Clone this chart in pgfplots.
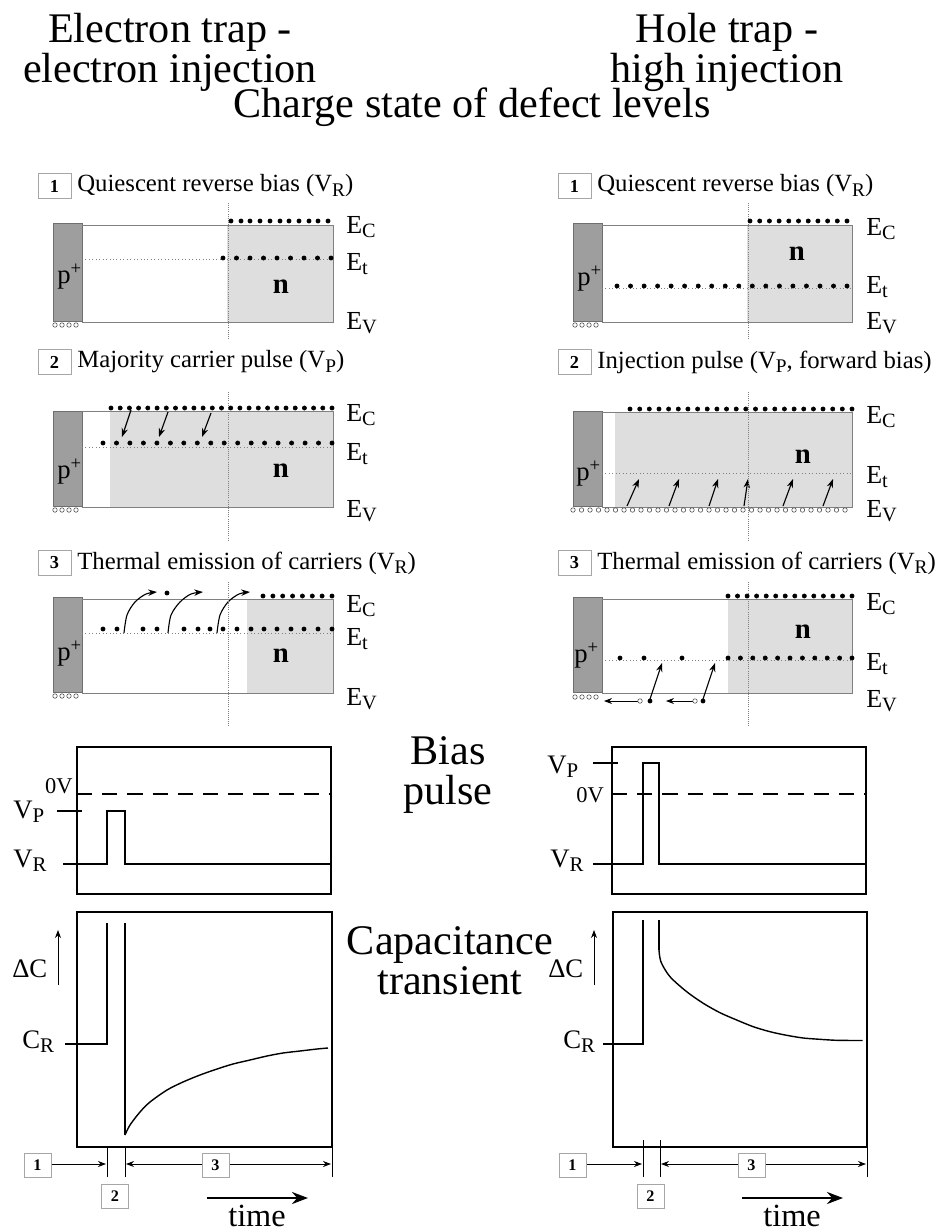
\documentclass[border=0pt]{standalone}
\usepackage{pgfplots}
\pgfplotsset{compat=1.18}
\usepackage{fontspec}
\setmainfont{Liberation Serif}
\usetikzlibrary{arrows.meta}
\newcommand{\fT}{\fontsize{30}{24}\selectfont}
\newcommand{\fB}{\fontsize{30}{28.5}\selectfont}
\newcommand{\fS}{\fontsize{17.6}{20}\selectfont}
\newcommand{\fE}{\fontsize{18.5}{21}\selectfont}
\newcommand{\fL}{\fontsize{19}{21}\selectfont}
\newcommand{\fZ}{\fontsize{16}{18}\selectfont}
\newcommand{\fN}{\fontsize{13}{15}\selectfont\bfseries}
\newcommand{\fM}{\fontsize{11.5}{13}\selectfont\bfseries}
\newcommand{\fW}{\fontsize{23}{26}\selectfont}
\newcommand{\fn}{\fontsize{20.5}{22}\selectfont\bfseries}
\newcommand{\fp}{\fontsize{19}{21}\selectfont}
\newcommand{\sub}[1]{\raisebox{-0.4ex}{\scalebox{0.78}{#1}}}
\definecolor{nfill}{gray}{0.87}
\definecolor{pfill}{gray}{0.62}
\definecolor{bandc}{gray}{0.5}
\pgfplotsset{
  band/.style={draw=bandc, line width=0.6pt},
  etl/.style={draw=gray, line width=0.45pt, dotted},
  vdot/.style={draw=gray, line width=0.5pt, densely dotted},
  dots/.style={only marks, mark=*, mark size=1.5pt, color=black},
  holes/.style={only marks, mark=*, mark size=1.6pt, mark options={draw=gray!60!black, fill=white, line width=0.4pt}},
  frame/.style={draw=black, line width=1.3pt},
  wave/.style={draw=black, line width=1.3pt},
  trans/.style={draw=black, line width=1pt},
  arr/.style={draw=black, line width=0.8pt, -{Stealth[length=2.2mm,width=1.6mm]}},
  tarr/.style={draw=black, line width=0.6pt, -{Stealth[length=2mm,width=1.5mm]}},
  thin/.style={draw=black, line width=0.6pt},
}
\begin{document}
\begin{tikzpicture}
\path[use as bounding box] (0,0) rectangle (234.5mm,308mm);
\begin{axis}[at={(0,0)}, anchor=south west, scale only axis,
  width=234.5mm, height=308mm, xmin=0, xmax=938, ymin=0, ymax=1232,
  y dir=reverse, hide axis, clip=false]

% ================= LEFT PANEL 1 =================
\addplot[fill=pfill, draw=pfill!70!black, line width=0.3pt] coordinates {(53,223)(82,223)(82,321)(53,321)} --cycle;
\addplot[fill=nfill, draw=none] coordinates {(227,225)(333,225)(333,322)(227,322)} --cycle;
\addplot[band] coordinates {(82,225)(333,225)(333,322)(82,322)};
\addplot[etl] coordinates {(82,259)(333,259)};
\addplot[dots] coordinates {(231,221)(241,221)(250,221)(260,221)(270,221)(280,221)(289,221)(299,221)(309,221)(318,221)(328,221)};
\addplot[dots] coordinates {(223,258)(236.5,258)(250,258)(263.5,258)(277,258)(290.5,258)(304,258)(317.5,258)(331,258)};
\addplot[holes] coordinates {(55,325)(62,325)(69,325)(76,325)};

% ================= LEFT PANEL 2 =================
\addplot[fill=pfill, draw=pfill!70!black, line width=0.3pt] coordinates {(53,411)(82,411)(82,506)(53,506)} --cycle;
\addplot[fill=nfill, draw=none] coordinates {(110,411)(333,411)(333,507)(110,507)} --cycle;
\addplot[band] coordinates {(82,411)(333,411)(333,507)(82,507)};
\addplot[etl] coordinates {(82,447)(333,447)};
\addplot[dots] coordinates {(111,408)(120.2,408)(129.4,408)(138.6,408)(147.8,408)(157.1,408)(166.3,408)(175.5,408)(184.7,408)(193.9,408)(203.1,408)(212.3,408)(221.5,408)(230.7,408)(239.9,408)(249.1,408)(258.3,408)(267.6,408)(276.8,408)(286,408)(295.2,408)(304.4,408)(313.6,408)(322.8,408)(332,408)};
\addplot[dots] coordinates {(103,443)(116.5,443)(129.9,443)(143.4,443)(156.9,443)(170.4,443)(183.8,443)(197.3,443)(210.8,443)(224.2,443)(237.7,443)(251.2,443)(264.6,443)(278.1,443)(291.6,443)(305.1,443)(318.5,443)(332,443)};
\addplot[holes] coordinates {(55,510)(62,510)(69,510)(76,510)};
\addplot[arr] coordinates {(131,410)(122,437)};
\addplot[arr] coordinates {(168,412)(159,437)};
\addplot[arr] coordinates {(211,413)(202,437)};

% ================= LEFT PANEL 3 =================
\addplot[fill=pfill, draw=pfill!70!black, line width=0.3pt] coordinates {(53,597)(82,597)(82,692)(53,692)} --cycle;
\addplot[fill=nfill, draw=none] coordinates {(247,599)(333,599)(333,693)(247,693)} --cycle;
\addplot[band] coordinates {(82,599)(333,599)(333,693)(82,693)};
\addplot[etl] coordinates {(82,633)(333,633)};
\addplot[dots] coordinates {(263,596)(272.9,596)(282.7,596)(292.6,596)(302.4,596)(312.3,596)(322.1,596)(332,596)};
\addplot[dots] coordinates {(103,629)(117,629)(143,629)(157,629)(184,629)(198,629)(210,629)(223,629)(237,629)(251,629)(264,629)(277,629)(291,629)(304,629)(318,629)(332,629)(167,593)};
\addplot[holes] coordinates {(55,696)(62,696)(69,696)(76,696)};
\addplot[arr, smooth] coordinates {(124,633)(127,615)(135,602)(146,594)(157,592)};
\addplot[arr, smooth] coordinates {(168,633)(171,615)(180,602)(191,594)(203,592)};
\addplot[arr, smooth] coordinates {(217,633)(220,615)(228,602)(239,594)(250,592)};

% ================= RIGHT PANEL 1 =================
\addplot[fill=pfill, draw=pfill!70!black, line width=0.3pt] coordinates {(573,223)(602,223)(602,321)(573,321)} --cycle;
\addplot[fill=nfill, draw=none] coordinates {(747,225)(852,225)(852,322)(747,322)} --cycle;
\addplot[band] coordinates {(602,225)(852,225)(852,322)(602,322)};
\addplot[etl] coordinates {(602,288)(852,288)};
\addplot[dots] coordinates {(750,221)(759.7,221)(769.4,221)(779.1,221)(788.8,221)(798.5,221)(808.2,221)(817.9,221)(827.6,221)(837.3,221)(847,221)};
\addplot[dots] coordinates {(617,286)(630.5,286)(644.1,286)(657.6,286)(671.1,286)(684.6,286)(698.2,286)(711.7,286)(725.2,286)(738.8,286)(752.3,286)(765.8,286)(779.4,286)(792.9,286)(806.4,286)(820,286)(833.5,286)(847,286)};
\addplot[holes] coordinates {(575,325)(582,325)(589,325)(596,325)};

% ================= RIGHT PANEL 2 =================
\addplot[fill=pfill, draw=pfill!70!black, line width=0.3pt] coordinates {(573,411)(602,411)(602,506)(573,506)} --cycle;
\addplot[fill=nfill, draw=none] coordinates {(615,412)(852,412)(852,507)(615,507)} --cycle;
\addplot[band] coordinates {(602,412)(852,412)(852,507)(602,507)};
\addplot[etl] coordinates {(602,473)(852,473)};
\addplot[dots] coordinates {(630,409)(639.7,409)(649.3,409)(659,409)(668.6,409)(678.3,409)(687.9,409)(697.6,409)(707.2,409)(716.9,409)(726.5,409)(736.2,409)(745.8,409)(755.5,409)(765.1,409)(774.8,409)(784.4,409)(794.1,409)(803.7,409)(813.4,409)(823,409)(832.7,409)(842.3,409)(852,409)};
\addplot[holes] coordinates {(573,510)(581.5,510)(590,510)(598.5,510)(607,510)(615.5,510)(624,510)(632.5,510)(641,510)(649.5,510)(658,510)(666.5,510)(675,510)(683.5,510)(692,510)(700.5,510)(709,510)(717.5,510)(726,510)(734.5,510)(743,510)(751.5,510)(760,510)(768.5,510)(777,510)(785.5,510)(794,510)(802.5,510)(811,510)(819.5,510)(828,510)(836.5,510)(845,510)};
\addplot[arr] coordinates {(627,506)(639,479)};
\addplot[arr] coordinates {(669,506)(679,479)};
\addplot[arr] coordinates {(709,506)(718,479)};
\addplot[arr] coordinates {(744,506)(748,479)};
\addplot[arr] coordinates {(783,506)(793,479)};
\addplot[arr] coordinates {(823,506)(833,479)};

% ================= RIGHT PANEL 3 =================
\addplot[fill=pfill, draw=pfill!70!black, line width=0.3pt] coordinates {(573,597)(602,597)(602,692)(573,692)} --cycle;
\addplot[fill=nfill, draw=none] coordinates {(728,599)(852,599)(852,693)(728,693)} --cycle;
\addplot[band] coordinates {(602,599)(852,599)(852,693)(602,693)};
\addplot[etl] coordinates {(602,660)(852,660)};
\addplot[dots] coordinates {(728,596)(737.5,596)(747.1,596)(756.6,596)(766.2,596)(775.7,596)(785.2,596)(794.8,596)(804.3,596)(813.8,596)(823.4,596)(832.9,596)(842.5,596)(852,596)};
\addplot[dots] coordinates {(620,658)(644,658)(682,658)(728,658)(740.4,658)(752.8,658)(765.2,658)(777.6,658)(790,658)(802.4,658)(814.8,658)(827.2,658)(839.6,658)(852,658)};
\addplot[holes] coordinates {(575,697)(582,697)(589,697)(596,697)};
\addplot[tarr] coordinates {(638,701)(604,701)};
\addplot[tarr] coordinates {(693,701)(666,701)};
\addplot[holes] coordinates {(640,701)(695,701)};
\addplot[dots] coordinates {(650,701)(703,701)};
\addplot[arr] coordinates {(650,699)(662,663)};
\addplot[arr] coordinates {(703,699)(715,663)};

% vertical dotted lines
\addplot[vdot] coordinates {(228,203)(228,340)};
\addplot[vdot] coordinates {(228,392)(228,540)};
\addplot[vdot] coordinates {(228,582)(228,727)};
\addplot[vdot] coordinates {(748,203)(748,340)};
\addplot[vdot] coordinates {(748,392)(748,540)};
\addplot[vdot] coordinates {(748,582)(748,727)};

% ================= BIAS PULSE =================
\addplot[frame] coordinates {(77,747)(331,747)(331,894)(77,894)} --cycle;
\addplot[draw=black, line width=1.1pt, dash pattern=on 3.8mm off 2.5mm] coordinates {(77,794)(331,794)};
\addplot[wave] coordinates {(57,811)(82,811)};
\addplot[wave] coordinates {(63,864)(107,864)(107,811)(125,811)(125,864)(331,864)};

\addplot[frame] coordinates {(612,747)(866,747)(866,894)(612,894)} --cycle;
\addplot[draw=black, line width=1.1pt, dash pattern=on 3.8mm off 2.5mm] coordinates {(612,794)(866,794)};
\addplot[wave] coordinates {(593,763)(618,763)};
\addplot[wave] coordinates {(593,864)(643,864)(643,763)(659,763)(659,864)(866,864)};

% ================= CAPACITANCE =================
\addplot[frame] coordinates {(77,912)(332,912)(332,1147)(77,1147)} --cycle;
\addplot[trans] coordinates {(65,1044)(107,1044)(107,923)};
\addplot[trans] coordinates {(125,923)(125,1135)};
\addplot[trans, smooth] coordinates {(125,1135)(130,1125)(140,1112)(150,1102)(167,1090)(183,1082)(200,1075)(217,1069)(233,1064)(250,1060)(267,1056)(283,1053)(300,1051)(317,1049)(328,1048)};
\addplot[tarr] coordinates {(58,985)(58,930)};

\addplot[frame] coordinates {(613,912)(867,912)(867,1147)(613,1147)} --cycle;
\addplot[trans] coordinates {(603,1044)(643,1044)(643,920)};
\addplot[trans] coordinates {(659,920)(659,950)};
\addplot[trans, smooth] coordinates {(659,950)(661,962)(670,976.7)(686.7,991.7)(703.3,1003.3)(720,1012.7)(736.7,1020)(753.3,1026.7)(770,1031.7)(786.7,1035.3)(803.3,1038)(820,1039.3)(836.7,1040.3)(862.7,1040.5)};
\addplot[tarr] coordinates {(594,985)(594,930)};

% time annotations left
\addplot[thin] coordinates {(107,1147)(107,1177)};
\addplot[thin] coordinates {(125,1147)(125,1177)};
\addplot[thin] coordinates {(332,1147)(332,1177)};
\addplot[tarr] coordinates {(51,1164)(106,1164)};
\addplot[tarr] coordinates {(202,1164)(126,1164)};
\addplot[tarr] coordinates {(229,1164)(331,1164)};
\addplot[draw=black, line width=2pt, -{Stealth[length=4mm,width=3mm]}] coordinates {(207,1198)(308,1198)};
% time annotations right
\addplot[thin] coordinates {(643,1140)(643,1177)};
\addplot[thin] coordinates {(660,1140)(660,1177)};
\addplot[thin] coordinates {(867,1147)(867,1177)};
\addplot[tarr] coordinates {(585,1164)(642,1164)};
\addplot[tarr] coordinates {(738,1164)(661,1164)};
\addplot[tarr] coordinates {(765,1164)(866,1164)};
\addplot[draw=black, line width=2pt, -{Stealth[length=4mm,width=3mm]}] coordinates {(742,1198)(843,1198)};

% ================= TEXT =================
\node[font=\fT, align=center, anchor=north, inner sep=0pt] at (axis cs:170,13) {Electron trap -\\electron injection};
\node[font=\fT, align=center, anchor=north, inner sep=0pt] at (axis cs:727,13) {Hole trap -\\high injection};
\node[font=\fT, anchor=base, inner sep=0pt] at (axis cs:472,117) {Charge state of defect levels};
\node[font=\fB, align=center, anchor=north, inner sep=0pt] at (axis cs:448,736) {Bias\\pulse};
\node[font=\fB, align=center, anchor=north, inner sep=0pt] at (axis cs:450,926) {Capacitance\\transient};

% panel titles
\node[draw=gray!70, line width=0.5pt, minimum width=8.2mm, minimum height=6.3mm, inner sep=0pt, font=\fN] at (axis cs:54.5,186) {1};
\node[draw=gray!70, line width=0.5pt, minimum width=8.2mm, minimum height=6.3mm, inner sep=0pt, font=\fN] at (axis cs:54.5,362) {2};
\node[draw=gray!70, line width=0.5pt, minimum width=8.2mm, minimum height=6.3mm, inner sep=0pt, font=\fN] at (axis cs:54.5,563) {3};
\node[draw=gray!70, line width=0.5pt, minimum width=8.2mm, minimum height=6.3mm, inner sep=0pt, font=\fN] at (axis cs:574.5,186) {1};
\node[draw=gray!70, line width=0.5pt, minimum width=8.2mm, minimum height=6.3mm, inner sep=0pt, font=\fN] at (axis cs:574.5,362) {2};
\node[draw=gray!70, line width=0.5pt, minimum width=8.2mm, minimum height=6.3mm, inner sep=0pt, font=\fN] at (axis cs:574.5,563) {3};
\node[font=\fS, anchor=west, inner sep=0pt] at (axis cs:77,186) {Quiescent reverse bias (V\sub{R})};
\node[font=\fS, anchor=west, inner sep=0pt] at (axis cs:77,362) {Majority carrier pulse (V\sub{P})};
\node[font=\fS, anchor=west, inner sep=0pt] at (axis cs:77,563) {Thermal emission of carriers (V\sub{R})};
\node[font=\fS, anchor=west, inner sep=0pt] at (axis cs:597,186) {Quiescent reverse bias (V\sub{R})};
\node[font=\fS, anchor=west, inner sep=0pt] at (axis cs:597,362) {Injection pulse (V\sub{P}, forward bias)};
\node[font=\fS, anchor=west, inner sep=0pt] at (axis cs:597,563) {Thermal emission of carriers (V\sub{R})};

% band labels left
\node[font=\fE, anchor=base west, inner sep=0pt] at (axis cs:346,233) {E\sub{C}};
\node[font=\fE, anchor=base west, inner sep=0pt] at (axis cs:346,270) {E\sub{t}};
\node[font=\fE, anchor=base west, inner sep=0pt] at (axis cs:346,329) {E\sub{V}};
\node[font=\fE, anchor=base west, inner sep=0pt] at (axis cs:346,421) {E\sub{C}};
\node[font=\fE, anchor=base west, inner sep=0pt] at (axis cs:346,460) {E\sub{t}};
\node[font=\fE, anchor=base west, inner sep=0pt] at (axis cs:346,517) {E\sub{V}};
\node[font=\fE, anchor=base west, inner sep=0pt] at (axis cs:346,612) {E\sub{C}};
\node[font=\fE, anchor=base west, inner sep=0pt] at (axis cs:346,645) {E\sub{t}};
\node[font=\fE, anchor=base west, inner sep=0pt] at (axis cs:346,705) {E\sub{V}};
% band labels right
\node[font=\fE, anchor=base west, inner sep=0pt] at (axis cs:866,235) {E\sub{C}};
\node[font=\fE, anchor=base west, inner sep=0pt] at (axis cs:866,293) {E\sub{t}};
\node[font=\fE, anchor=base west, inner sep=0pt] at (axis cs:866,329) {E\sub{V}};
\node[font=\fE, anchor=base west, inner sep=0pt] at (axis cs:866,423) {E\sub{C}};
\node[font=\fE, anchor=base west, inner sep=0pt] at (axis cs:866,483) {E\sub{t}};
\node[font=\fE, anchor=base west, inner sep=0pt] at (axis cs:866,517) {E\sub{V}};
\node[font=\fE, anchor=base west, inner sep=0pt] at (axis cs:866,610) {E\sub{C}};
\node[font=\fE, anchor=base west, inner sep=0pt] at (axis cs:866,670) {E\sub{t}};
\node[font=\fE, anchor=base west, inner sep=0pt] at (axis cs:866,707) {E\sub{V}};

% p+ and n
\node[font=\fp, anchor=base west, inner sep=0pt] at (axis cs:57,283) {p\textsuperscript{+}};
\node[font=\fp, anchor=base west, inner sep=0pt] at (axis cs:57,478) {p\textsuperscript{+}};
\node[font=\fp, anchor=base west, inner sep=0pt] at (axis cs:57,660) {p\textsuperscript{+}};
\node[font=\fp, anchor=base west, inner sep=0pt] at (axis cs:577,285) {p\textsuperscript{+}};
\node[font=\fp, anchor=base west, inner sep=0pt] at (axis cs:576,480) {p\textsuperscript{+}};
\node[font=\fp, anchor=base west, inner sep=0pt] at (axis cs:574,662) {p\textsuperscript{+}};
\node[font=\fn, anchor=base, inner sep=0pt] at (axis cs:281,293) {n};
\node[font=\fn, anchor=base, inner sep=0pt] at (axis cs:281,477) {n};
\node[font=\fn, anchor=base, inner sep=0pt] at (axis cs:281,662) {n};
\node[font=\fn, anchor=base, inner sep=0pt] at (axis cs:797,260) {n};
\node[font=\fn, anchor=base, inner sep=0pt] at (axis cs:803,463) {n};
\node[font=\fn, anchor=base, inner sep=0pt] at (axis cs:803,638) {n};

% bias labels
\node[font=\fZ, anchor=base east, inner sep=0pt] at (axis cs:73,793) {0V};
\node[font=\fL, anchor=base west, inner sep=0pt] at (axis cs:13,818) {V\sub{P}};
\node[font=\fL, anchor=base west, inner sep=0pt] at (axis cs:13,867) {V\sub{R}};
\node[font=\fL, anchor=base west, inner sep=0pt] at (axis cs:547,773) {V\sub{P}};
\node[font=\fZ, anchor=base west, inner sep=0pt] at (axis cs:576,802) {0V};
\node[font=\fL, anchor=base west, inner sep=0pt] at (axis cs:550,867) {V\sub{R}};

% capacitance labels
\node[font=\fL, anchor=base west, inner sep=0pt] at (axis cs:12,977) {ΔC};
\node[font=\fL, anchor=base west, inner sep=0pt] at (axis cs:22,1048) {C\sub{R}};
\node[font=\fL, anchor=base west, inner sep=0pt] at (axis cs:548,977) {ΔC};
\node[font=\fL, anchor=base west, inner sep=0pt] at (axis cs:563,1048) {C\sub{R}};

% bottom boxes
\node[draw=gray!70, fill=white, line width=0.5pt, minimum width=6.8mm, minimum height=6mm, inner sep=0pt, font=\fM] at (axis cs:37.5,1165) {1};
\node[draw=gray!70, fill=white, line width=0.5pt, minimum width=6.8mm, minimum height=6mm, inner sep=0pt, font=\fM] at (axis cs:115,1196) {2};
\node[draw=gray!70, fill=white, line width=0.5pt, minimum width=6.8mm, minimum height=6mm, inner sep=0pt, font=\fM] at (axis cs:215.5,1165) {3};
\node[draw=gray!70, fill=white, line width=0.5pt, minimum width=6.8mm, minimum height=6mm, inner sep=0pt, font=\fM] at (axis cs:572.5,1165) {1};
\node[draw=gray!70, fill=white, line width=0.5pt, minimum width=6.8mm, minimum height=6mm, inner sep=0pt, font=\fM] at (axis cs:650.5,1196) {2};
\node[draw=gray!70, fill=white, line width=0.5pt, minimum width=6.8mm, minimum height=6mm, inner sep=0pt, font=\fM] at (axis cs:751.5,1165) {3};
\node[font=\fW, anchor=base, inner sep=0pt] at (axis cs:257,1226) {time};
\node[font=\fW, anchor=base, inner sep=0pt] at (axis cs:792,1226) {time};
\end{axis}
\end{tikzpicture}
\end{document}
